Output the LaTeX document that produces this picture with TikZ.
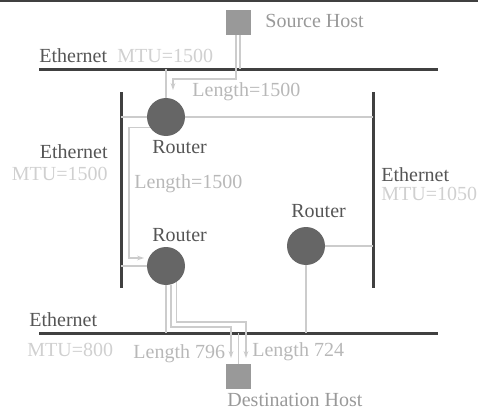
\documentclass[tikz,border=0pt]{standalone}
\usepackage{fontspec}
\setmainfont{Liberation Serif}
\usetikzlibrary{arrows.meta,positioning,calc}
\definecolor{barc}{HTML}{404040}
\definecolor{routerc}{HTML}{666666}
\definecolor{hostc}{HTML}{999999}
\definecolor{linkc}{HTML}{CCCCCC}
\definecolor{namec}{HTML}{555555}
\definecolor{mtuc}{HTML}{D0D0D0}
\definecolor{lenc}{HTML}{B8B8B8}
\tikzset{
  bar/.style={draw=barc,line width=1.5pt},
  link/.style={draw=linkc,line width=0.6pt},
  flow/.style={link,-{Stealth[length=3.5pt,width=2.4pt]}},
  router/.style={circle,fill=routerc,inner sep=0pt,minimum size=19pt},
  host/.style={rectangle,fill=hostc,inner sep=0pt,minimum size=12.5pt},
  txt/.style={inner sep=0pt,font=\fontsize{10}{12}\selectfont},
  ethlab/.style={txt,text=namec,anchor=base west},  % "Ethernet", "Router"
  mtulab/.style={txt,text=mtuc,anchor=base west},
  lenlab/.style={txt,text=lenc,anchor=base west},
  hostlab/.style={txt,text=hostc,anchor=base west},
}

\begin{document}
\begin{tikzpicture}[x=0.5pt,y=-0.5pt]
  \useasboundingbox (0,0) rectangle (478,412);
  \draw[draw=barc,line width=0.6pt] (0,1) -- (478,1);
  % ---- ethernet segments ----
  \coordinate (topL) at (39,69);  \coordinate (topR) at (438,69);
  \coordinate (botL) at (39,333); \coordinate (botR) at (438,333);
  \coordinate (lftT) at (121,92); \coordinate (lftB) at (121,288);
  \coordinate (rgtT) at (373,92); \coordinate (rgtB) at (373,288);
  \draw[bar] (topL) -- (topR);
  \draw[bar] (botL) -- (botR);
  \draw[bar] (lftT) -- (lftB);
  \draw[bar] (rgtT) -- (rgtB);
  % ---- hosts and routers ----
  \node[host]   (src) at (238.5,22)    {};
  \node[host]   (dst) at (238.5,376.5) {};
  \node[router] (r1)  at (166,117) {};
  \node[router] (r2)  at (166,266) {};
  \node[router] (r3)  at (306,246) {};
  % ---- attachments to the segments ----
  \coordinate (srcTap) at (240,69);
  \draw[link] (src.south -| srcTap) -- (srcTap);
  \draw[link] (r1.north) -- (r1.north |- topL);
  \draw[link] (r1.west -| lftT) -- (r1.west);
  \draw[link] (r1.east) -- (r1.east -| rgtT);
  \draw[link] (r2.west -| lftT) -- (r2.west);
  \draw[link] (r2.south) -- (r2.south |- botL);
  \draw[link] (r3.east) -- (r3.east -| rgtT);
  \draw[link] (r3.south) -- (r3.south |- botL);
  \draw[link] (dst.north) -- (dst.north |- botL);
  % ---- the datagram and its fragments ----
  \coordinate (hop1) at (236,79);  \coordinate (hop1e) at (173,90);
  \draw[flow] (src.south -| hop1) -- (hop1) -| (hop1e);
  \coordinate (hop2) at (129,258); \coordinate (hop2e) at (144,258);
  \draw[flow] (r1.212) -| (hop2) -- (hop2e);
  \coordinate (frag1) at (231,327); \coordinate (frag1e) at (231,358);
  \draw[flow] (r2.285) |- (frag1) -- (frag1e);
  \coordinate (frag2) at (246,322); \coordinate (frag2e) at (246,358);
  \draw[flow] (r2.302) |- (frag2) -- (frag2e);
  % ---- labels ----
  \node[hostlab] (srcLab) at (265,27) {Source Host};
  \node[ethlab]  (ethTop) at (39,62)  {Ethernet};
  \node[mtulab]  (mtuTop) at (117,62) {MTU=1500};
  \node[lenlab]  (lenTop) at (192,97) {Length=1500};
  \node[ethlab]  (r1Lab)  at (152,154) {Router};
  \node[lenlab]  (lenMid) at (134,188) {Length=1500};
  \node[ethlab]  (r3Lab)  at (291,218) {Router};
  \node[ethlab]  (r2Lab)  at (152,242) {Router};
  \node[ethlab,anchor=base east] (ethLft) at (108,158) {Ethernet};
  \node[mtulab,anchor=base east] (mtuLft) at (108,180) {MTU=1500};
  \node[ethlab]  (ethRgt) at (381,182) {Ethernet};
  \node[mtulab]  (mtuRgt) at (381,200) {MTU=1050};
  \node[ethlab]  (ethBot) at (29,327)  {Ethernet};
  \node[mtulab]  (mtuBot) at (27,357)  {MTU=800};
  \node[lenlab]  (lenA)   at (133,358) {Length 796};
  \node[lenlab]  (lenB)   at (252,357) {Length 724};
  \node[hostlab] (dstLab) at (227,407) {Destination Host};
\end{tikzpicture}
\end{document}
